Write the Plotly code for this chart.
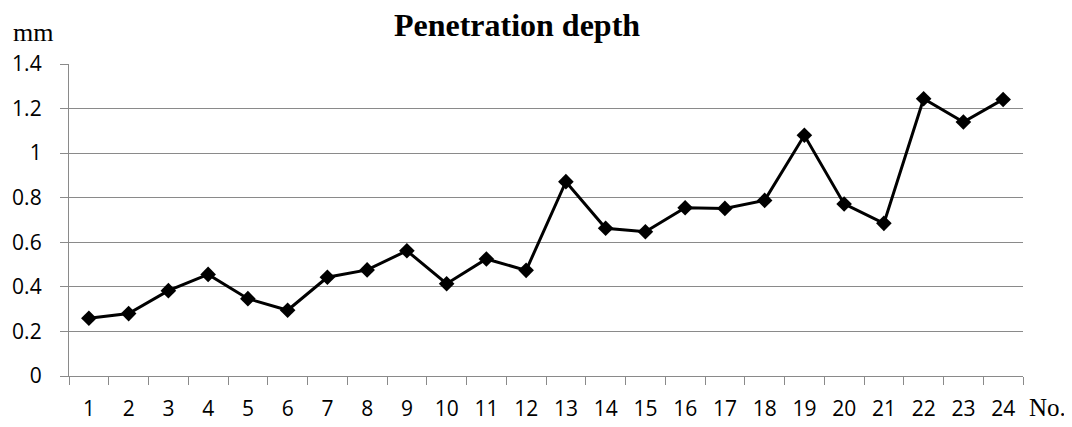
import plotly.graph_objects as go

categories = [str(i) for i in range(1, 25)]
depth = [0.259, 0.280, 0.383, 0.456, 0.347, 0.295, 0.443, 0.476, 0.562, 0.414,
         0.525, 0.474, 0.872, 0.663, 0.647, 0.755, 0.752, 0.788, 1.080, 0.772,
         0.685, 1.244, 1.140, 1.241]
y_ticks = [0, 0.2, 0.4, 0.6, 0.8, 1, 1.2, 1.4]
y_tick_text = ["0", "0.2", "0.4", "0.6", "0.8", "1", "1.2", "1.4"]

grey = "#8a8a8a"
tick_font = dict(family="Open Sans", size=21, color="#000000")
serif = "Liberation Serif"

# page body margin offset (the figure is drawn 8px in from the page corner)
O = 8
FW, FH = 1072 - O, 427 - O
# plot area in page pixels
L, R, T, B = 69 - O, 1023 - O, 64 - O, 376 - O
W, H = R - L, B - T


def px(x):
    return (x - O - L) / W


def py(y):
    return (B - (y - O)) / H


fig = go.Figure()
fig.add_trace(go.Scatter(
    x=categories, y=depth, mode="lines+markers",
    line=dict(color="#000000", width=3),
    marker=dict(symbol="diamond", size=12, color="#000000"),
    showlegend=False, cliponaxis=False,
))

fig.update_layout(
    width=FW, height=FH,
    margin=dict(l=L, r=FW - R, t=T, b=FH - B, autoexpand=False),
    paper_bgcolor="white", plot_bgcolor="white",
    title=dict(text="<b>Penetration depth</b>", x=(517 - O) / FW, xanchor="center",
               y=1 - (25 - O) / FH, yanchor="middle",
               font=dict(family=serif, size=32, color="#000000")),
    xaxis=dict(type="category", tickson="boundaries", ticks="outside", ticklen=8,
               tickcolor=grey, tickwidth=1.3, showline=True, linecolor=grey, linewidth=1.3,
               showgrid=False, tickfont=tick_font, ticklabelstandoff=14,
               range=[-0.5, 23.5], automargin=False),
    yaxis=dict(range=[0, 1.4], tickvals=y_ticks, ticktext=y_tick_text, ticks="outside",
               ticklen=8, tickcolor=grey, tickwidth=1.3, showline=True, linecolor=grey,
               linewidth=1.3, showgrid=True, gridcolor=grey, gridwidth=1.3,
               zeroline=False, tickfont=tick_font, ticklabelstandoff=14, automargin=False),
    annotations=[
        dict(text="mm", x=px(33), y=py(33), xref="paper", yref="paper",
             xanchor="center", yanchor="middle", showarrow=False,
             font=dict(family=serif, size=26, color="#000000")),
        dict(text="No.", x=px(1047), y=py(407), xref="paper", yref="paper",
             xanchor="center", yanchor="middle", showarrow=False,
             font=dict(family=serif, size=25, color="#000000")),
    ],
)

fig.write_html("out.html")
